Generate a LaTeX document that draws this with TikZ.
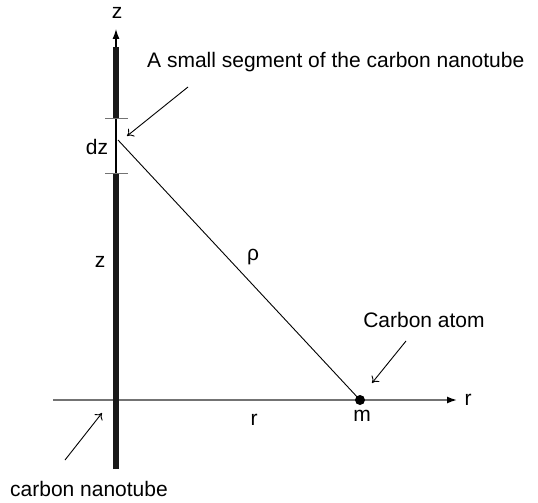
\documentclass[tikz,border=0pt]{standalone}
\usepackage{fontspec}
\setmainfont{Liberation Sans}
\usetikzlibrary{arrows.meta}
\begin{document}
\begin{tikzpicture}[x=1pt,y=-1pt,
  lbl/.style={inner sep=0pt,font=\fontsize{21}{25}\selectfont},
  axisr/.style={draw=black!55,line width=1.5pt,-{Latex[length=10pt,width=7pt,black]}},
  axisz/.style={draw=black,line width=1.2pt,-{Latex[length=10pt,width=7pt]}},
  tube/.style={draw=black!90,line width=6.5pt},
  tick/.style={draw=black!55,line width=1pt},
  note/.style={draw=black,line width=0.9pt,-{To[length=6pt,width=10pt]}},
  rholine/.style={draw=black,line width=0.9pt}]
\useasboundingbox (0,0) rectangle (538,503);
% points
\coordinate (zbot) at (116,469);
\coordinate (ztip) at (116,29);
\coordinate (ttop) at (116,47);
\coordinate (t1) at (116,118);
\coordinate (t2) at (116,173);
\coordinate (dzp) at (118,140);
\coordinate (rstart) at (53,400);
\coordinate (rtip) at (457,400);
\coordinate (a1s) at (188,87);
\coordinate (a1e) at (127,136);
\coordinate (a2s) at (406,341);
\coordinate (a2e) at (372,383);
\coordinate (a3s) at (65,460);
\coordinate (a3e) at (102,413);
% axes
\draw[axisr] (rstart) -- (rtip);
\draw[axisz] (zbot) -- (ztip);
% tube
\draw[tube] (zbot) -- (t2);
\draw[tube] (t1) -- (ttop);
\draw[tick] ([xshift=-11pt]t1) -- ([xshift=12pt]t1);
\draw[tick] ([xshift=-11pt]t2) -- ([xshift=12pt]t2);
% mass
\node[circle,fill=black,minimum size=10pt,inner sep=0pt] (m) at (360,400) {};
\draw[rholine] (dzp) -- (m.center);
% labels
\node[lbl] (ztop) at (117,13) {z};
\node[lbl,anchor=west] (head) at (147,62) {A small segment of the carbon nanotube};
\node[lbl] (dz) at (97,147) {dz};
\node[lbl] (zmid) at (100,262) {z};
\node[lbl] (rho) at (253,257) {ρ};
\node[lbl] (rbot) at (254,420) {r};
\node[lbl] (mlab) at (362,416) {m};
\node[lbl] (rright) at (468,400) {r};
\node[lbl] (catom) at (424,320) {Carbon atom};
\node[lbl] (cnt) at (89,489) {carbon nanotube};
% annotation arrows
\draw[note] (a1s) -- (a1e);
\draw[note] (a2s) -- (a2e);
\draw[note] (a3s) -- (a3e);
\end{tikzpicture}
\end{document}
